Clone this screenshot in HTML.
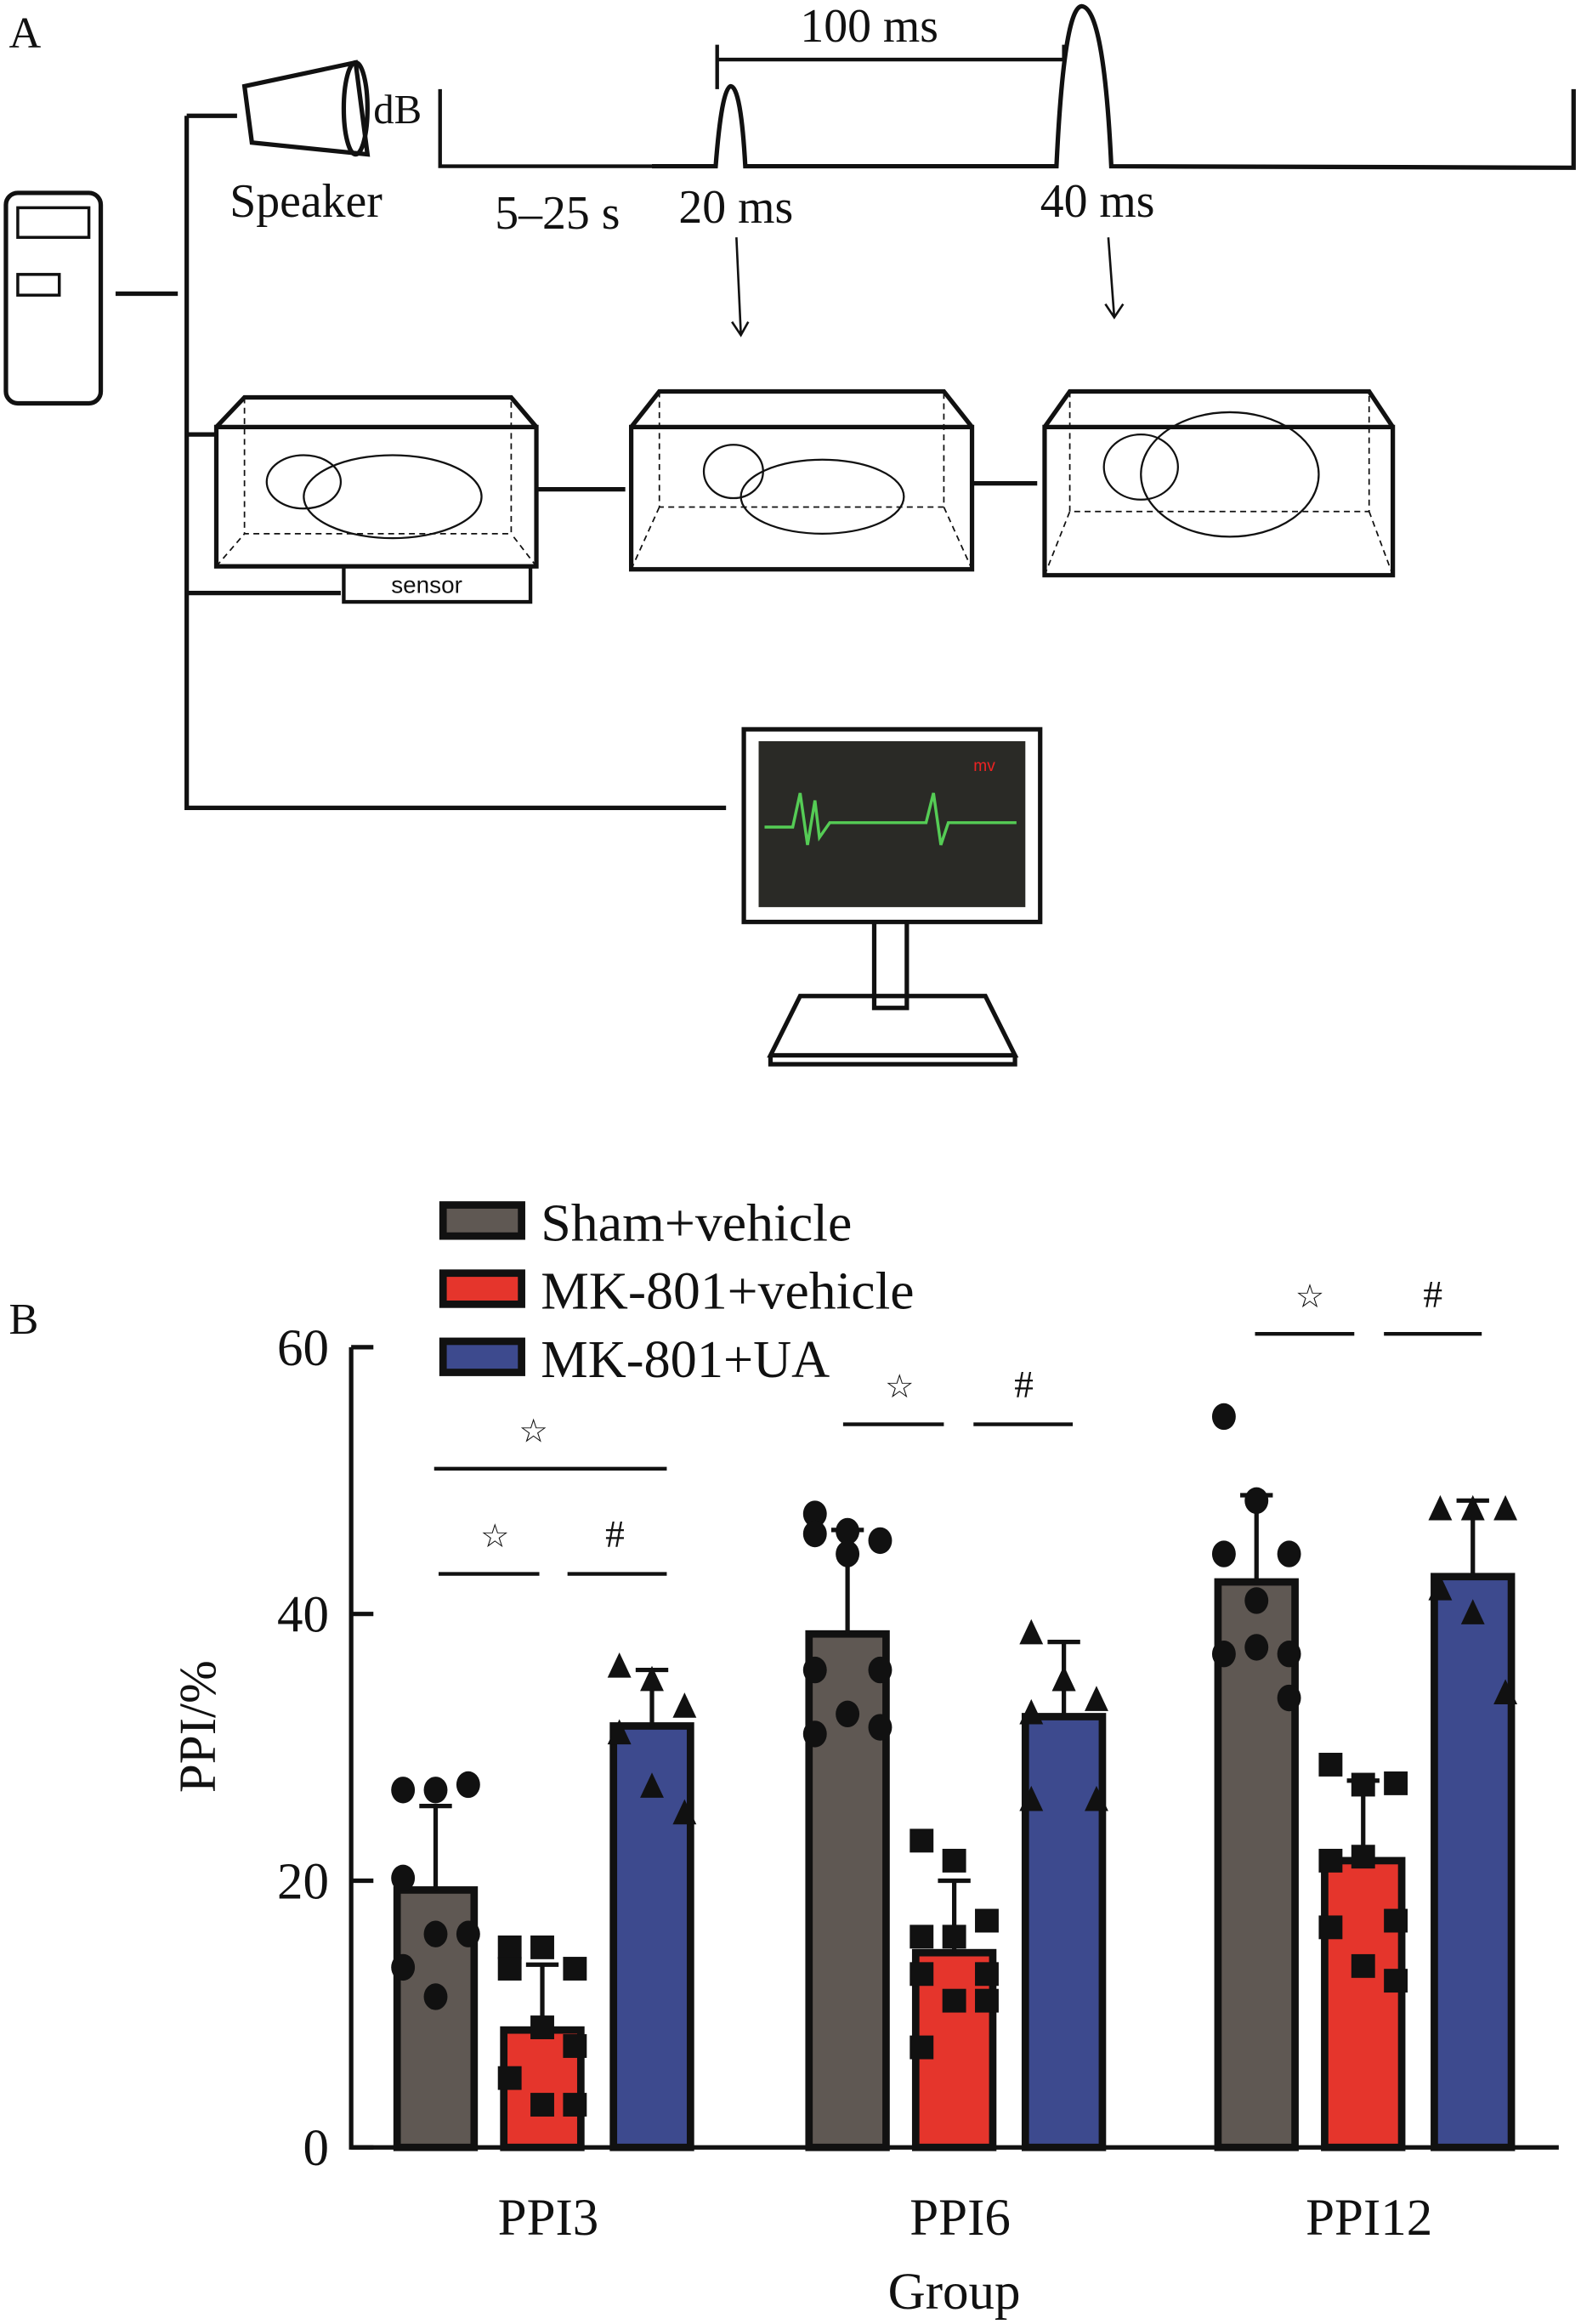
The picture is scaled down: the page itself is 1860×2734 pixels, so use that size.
<!DOCTYPE html>
<html><head><meta charset="utf-8"><style>
html,body{margin:0;padding:0;background:#fff;}
svg{display:block;}
text{font-family:"Liberation Serif",serif;fill:#111;}
</style></head><body>
<svg id="fig" width="1860" height="2734" viewBox="0 0 1067 1568" xmlns="http://www.w3.org/2000/svg">
<g fill="none" stroke="#111" stroke-width="3">
 <text x="6" y="32" font-size="30" stroke="none">A</text>
 <rect x="4" y="130" width="64" height="142" rx="8"/>
 <rect x="12" y="140" width="48" height="20" stroke-width="2"/>
 <rect x="12" y="185" width="28" height="14" stroke-width="2"/>
 <line x1="78" y1="198" x2="120" y2="198"/>
 <path d="M126 78 V545 H490"/>
 <line x1="126" y1="78" x2="160" y2="78"/>
 <line x1="126" y1="293" x2="145" y2="293"/><line x1="126" y1="400" x2="230" y2="400"/>
 <path d="M165 58 L240 42 L248 104 L170 96 Z"/>
 <ellipse cx="240" cy="73" rx="8" ry="31"/>
 <text x="252" y="83" font-size="28" stroke="none">dB</text>
 <text x="155" y="146" font-size="32" stroke="none">Speaker</text>
 <path d="M297 60 V112 H440" stroke-width="2.5"/>
 <path d="M440 112 H483 Q487 60 493 58 Q500 58 503 112 H713 Q718 5 730 4 Q745 5 750 112 L1062 113 V60"/>
 <path d="M484 30 V60 M484 40 H718 V30" stroke-width="2.5"/>
 <text x="540" y="28" font-size="32" stroke="none">100 ms</text>
 <text x="334" y="154" font-size="32" stroke="none">5–25 s</text>
 <text x="458" y="150" font-size="32" stroke="none">20 ms</text>
 <text x="702" y="146" font-size="32" stroke="none">40 ms</text>
 <path d="M497 160 L500 225 M494 217 L500 226 L505 217 M748 160 L752 214 M746 205 L752 214 L758 205" stroke-width="1.5"/>
 <g><path d="M146 288 L165 268 H345 L362 288 M146 288 H362 V382 H146 Z"/><path d="M165 268 V360 H345 V268 M146 382 L165 360 M362 382 L345 360" stroke-width="1" stroke-dasharray="4 3"/></g>
 <rect x="232" y="382" width="126" height="24" stroke-width="2.5"/>
 <text x="264" y="400" font-size="16" stroke="none" style="font-family:'Liberation Sans',sans-serif">sensor</text>
 <line x1="362" y1="330" x2="422" y2="330"/>
 <g><path d="M426 288 L445 264 H637 L656 288 M426 288 H656 V384 H426 Z"/><path d="M445 264 V342 H637 V264 M426 384 L445 342 M656 384 L637 342" stroke-width="1" stroke-dasharray="4 3"/></g>
 <line x1="656" y1="326" x2="700" y2="326"/>
 <g><path d="M705 288 L722 264 H924 L940 288 M705 288 H940 V388 H705 Z"/><path d="M722 264 V345 H924 V264 M705 388 L722 345 M940 388 L924 345" stroke-width="1" stroke-dasharray="4 3"/></g>
 <g stroke-width="1.3"><ellipse cx="265" cy="335" rx="60" ry="28"/><ellipse cx="205" cy="325" rx="25" ry="18"/><ellipse cx="555" cy="335" rx="55" ry="25"/><ellipse cx="495" cy="318" rx="20" ry="18"/><ellipse cx="830" cy="320" rx="60" ry="42"/><ellipse cx="770" cy="315" rx="25" ry="22"/></g>
 <g>
  <rect x="502" y="492" width="200" height="130" stroke-width="3"/>
  <rect x="512" y="500" width="180" height="112" fill="#2a2a26" stroke="none"/>
  <text x="657" y="520" font-size="11" stroke="none" style="fill:#e22;font-family:'Liberation Sans',sans-serif">mv</text>
  <path d="M516 558 H535 L540 535 L545 570 L550 540 L553 565 L560 555 H625 L630 535 L635 570 L640 555 H686" stroke="#5c5" stroke-width="2"/>
  <path d="M590 622 V680 H612 V622 M520 712 L540 672 H665 L685 712 Z M520 712 V718 H685 V712"/>
 </g>
</g>
<g id="chart"></g>
</svg>
<script>
const groups = ["PPI3","PPI6","PPI12"];
const seriesNames = ["Sham+vehicle","MK-801+vehicle","MK-801+UA"];
const shamMean = [19.3, 38.5, 42.4];
const mkMean = [8.8, 14.6, 21.5];
const uaMean = [31.6, 32.3, 42.8];
const shamErr = [6.3, 7.8, 6.5];
const mkErr = [4.9, 5.4, 6.0];
const uaErr = [4.2, 5.6, 5.7];
const shamPts = [[26.8,26.8,27.2,20.2,16.0,16.0,13.5,11.3],[47.5,46.2,45.5,46.0,44.5,35.8,35.8,32.5,31.5,31.0],[54.8,48.5,44.5,44.5,41.0,37.0,37.0,37.5,33.7]];
const mkPts = [[15.0,15.0,13.4,13.4,9.0,7.6,5.2,3.2,3.2],[23.0,21.5,17.0,15.8,15.8,13.0,13.0,11.0,11.0,7.5],[28.7,27.2,27.3,21.5,21.8,17.0,16.5,13.6,12.5]];
const uaPts = [[36.0,35.0,33.0,31.0,27.0,25.0],[38.5,35.0,33.5,32.5,35.0,26.0,26.0],[47.8,47.8,47.8,41.8,40.0,34.0]];
const yTicks = [0,20,40,60];
const colors = ["#5f5853","#e5352c","#3d4a8e"];

const NS="http://www.w3.org/2000/svg";
const g=document.getElementById('chart');
function mk(tag,attrs,parent){const e=document.createElementNS(NS,tag);for(const k in attrs)e.setAttribute(k,attrs[k]);(parent||g).appendChild(e);return e;}
const y0=1449, pxPerUnit=9;
function yS(v){return y0-v*pxPerUnit;}
const groupCenters=[366,644,920], barOff=[-72,0,74], barW=52;
function xS(gi,si){return groupCenters[gi]+barOff[si];}

let ax=mk('path',{d:`M237 ${yS(60)} V${y0} H1052`,fill:'none',stroke:'#111','stroke-width':3});


yTicks.forEach(t=>{
 let l=mk('line',{x1:237,x2:252,y1:yS(t),y2:yS(t),stroke:'#111','stroke-width':3});
 
 
 let tx=mk('text',{x:222,y:yS(t)+12,'font-size':35,'text-anchor':'end'});tx.textContent=t;
 
 
});
groups.forEach((gn,gi)=>{
 let tx=mk('text',{x:groupCenters[gi]+4,y:1508,'font-size':35,'text-anchor':'middle'});tx.textContent=gn;
 
 
});
let xt=mk('text',{x:644,y:1558,'font-size':35,'text-anchor':'middle'});xt.textContent='Group';


let yt=mk('text',{x:0,y:0,'font-size':35,'text-anchor':'middle',transform:'translate(145,1165) rotate(-90)'});yt.textContent='PPI/%';



const means=[shamMean,mkMean,uaMean], errs=[shamErr,mkErr,uaErr], pts=[shamPts,mkPts,uaPts];
for(let si=0;si<3;si++){for(let gi=0;gi<3;gi++){
 const cx=xS(gi,si), top=yS(means[si][gi]);
 let b=mk('rect',{x:cx-barW/2,y:top,width:barW,height:y0-top,fill:colors[si],stroke:'#111','stroke-width':5});
 
 
 const et=yS(means[si][gi]+errs[si][gi]);
 let e=mk('path',{d:`M${cx} ${top} V${et} M${cx-11} ${et} H${cx+11}`,stroke:'#111','stroke-width':3,fill:'none'});
 
 
 pts[si][gi].forEach((v,i)=>{
  const dx=[-22,0,22][i%3], px=cx+dx, py=yS(v);
  let m;
  if(si===0) m=mk('ellipse',{cx:px,cy:py,rx:8,ry:9,fill:'#111'});
  else if(si===1) m=mk('rect',{x:px-8,y:py-8,width:16,height:16,fill:'#111'});
  else m=mk('path',{d:`M${px} ${py-10} L${px+8} ${py+7} L${px-8} ${py+7} Z`,fill:'#111'});
  
  
 });
}}
const sig=[[293,450,991,360,'☆'],[296,364,1062,334,'☆'],[383,450,1062,415,'#'],[569,637,961,607,'☆'],[657,724,961,691,'#'],[847,914,900,884,'☆'],[934,1000,900,967,'#']];
sig.forEach(s=>{
 let l=mk('line',{x1:s[0],x2:s[1],y1:s[2],y2:s[2],stroke:'#111','stroke-width':2.5});
 
 
 let t=mk('text',{x:s[3],y:s[2]-18,'font-size':s[4]==='#'?26:22,'text-anchor':'middle'});t.textContent=s[4];
 
 
});
const legendLens=[210,252,195];
seriesNames.forEach((n,i)=>{
 const ly=813+i*46;
 let r=mk('rect',{x:299,y:ly,width:53,height:21,fill:colors[i],stroke:'#111','stroke-width':5});
 
 
 let t=mk('text',{x:365,y:ly+24,'font-size':36,textLength:legendLens[i],lengthAdjust:'spacingAndGlyphs'});t.textContent=n;
 
 
});
let bl=mk('text',{x:6,y:900,'font-size':30});bl.textContent='B';


</script>
</body></html>
